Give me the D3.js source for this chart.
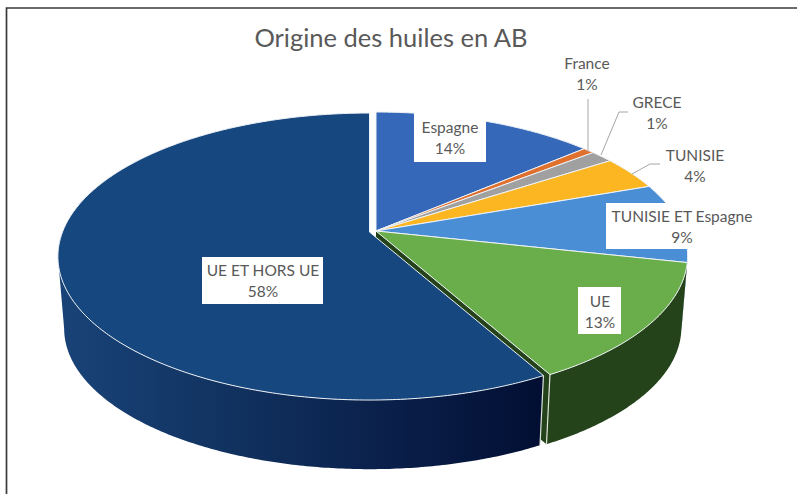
<!DOCTYPE html>
<html><head><meta charset="utf-8">
<script src="https://cdn.jsdelivr.net/npm/d3@7/dist/d3.min.js"></script>
<style>html,body{margin:0;padding:0;background:#fff}svg{display:block}text{font-family:Lato,"Noto Sans",sans-serif;fill:#595959}</style>
</head><body><svg id="c" width="797" height="494"></svg>
<script>
const title = "Origine des huiles en AB";
const categories = ["Espagne","France","GRECE","TUNISIE","TUNISIE ET Espagne","UE","UE ET HORS UE"];
const values = [13.6,0.7,1.4,3.8,9,13.5,58];
const valueLabels = ["14%","1%","1%","4%","9%","13%","58%"];
const colors = ["#3568b8","#e0702d","#a0a0a0","#fbb621","#4a8fd6","#6aae4c","#17477f"];
const sideColors = ["#1c3566","#7a3a12","#555555","#8a6410","#234f7c","#24431a","#0b2a58"];

const svg = d3.select("#c");
const defs = svg.append("defs");
const g = defs.append("linearGradient").attr("id","navy").attr("gradientUnits","userSpaceOnUse")
  .attr("x1",60).attr("x2",540).attr("y1",0).attr("y2",0);
[[0,"#194378"],[.3,"#123563"],[.6,"#0c2450"],[1,"#020f33"]].forEach(s=>
  g.append("stop").attr("offset",s[0]).attr("stop-color",s[1]));

// frame (open on the right and at the bottom)
svg.append("path").attr("d","M6.5 494V8H797").attr("fill","none").attr("stroke","#3a3a3a").attr("stroke-width",1.7);

svg.append("text").attr("x",391).attr("y",47).attr("text-anchor","middle").attr("font-size",25.5).text(title);

// perspective projection of the pie disc
const A=307,B=139.3,P=0.171,S=0.98,DEPTH=72.5;
function proj(a,cx,cy,bottom){
  const u=Math.sin(a),v=-Math.cos(a),d=1-P*v,s=bottom?S:1;
  return [cx+s*A*u/d,cy+(bottom?DEPTH:0)+s*B*v/d];
}
const arcs=d3.pie().sort(null).value(d=>d)(values);
const centre=i=>i===6?[369.5,232]:[376,231];
const lineGen=d3.line();
function edge(a0,a1,cx,cy,bottom){
  const n=Math.max(2,Math.ceil(Math.abs(a1-a0)/0.01));
  return d3.range(n+1).map(k=>proj(a0+(a1-a0)*k/n,cx,cy,bottom));
}
// walls
arcs.forEach((d,i)=>{
  const [cx,cy]=centre(i);
  if(i===5){ // radial face seen through the gap
    const c=proj(d.endAngle,cx,cy,false),b=proj(d.endAngle,cx,cy,true);
    svg.append("path").attr("d",lineGen([[cx,cy],c,b,[cx,cy+DEPTH]])+"Z").attr("fill",sideColors[5]);
  }
  const lo=Math.max(d.startAngle,Math.PI/2+Math.asin(P));
  const hi=Math.min(d.endAngle,3*Math.PI/2-Math.asin(P));
  if(hi>lo){
    const top=edge(lo,hi,cx,cy,false),bot=edge(hi,lo,cx,cy,true);
    svg.append("path").attr("d",lineGen(top.concat(bot))+"Z")
      .attr("fill",i===6?"url(#navy)":sideColors[i]);
  }
});
// light edges where the two front walls meet the gap
[5,6].forEach(i=>{
  const [cx,cy]=centre(i);
  const a=i===5?arcs[5].endAngle:arcs[6].startAngle;
  const t=proj(a,cx,cy,false),b=proj(a,cx,cy,true);
  svg.append("line").attr("x1",t[0]).attr("y1",t[1]).attr("x2",b[0]).attr("y2",b[1])
    .attr("stroke","#dfe5d8").attr("stroke-width",1.2);
});
// top faces
arcs.forEach((d,i)=>{
  const [cx,cy]=centre(i);
  const pts=[[cx,cy]].concat(edge(d.startAngle,d.endAngle,cx,cy,false));
  svg.append("path").attr("d",lineGen(pts)+"Z").attr("fill",colors[i])
    .attr("stroke","#eef2f6").attr("stroke-width",1).attr("stroke-linejoin","round");
});
// leader lines
const leaders=[[[588,152],[588,99]],[[601,155],[619,112],[628,112]],[[632,174],[650,164],[660,164]]];
leaders.forEach(l=>svg.append("path").attr("d",lineGen(l)).attr("fill","none").attr("stroke","#a6a6a6").attr("stroke-width",1));
// labels: text centre x, first-line centre y, optional white box
const labelPos=[[450,128,414,113,72,49],[587,64],[657,103],[695,156],[682,217,606,203,154,46],[600,302,578,287,43,47],[263,271,202,257,121,47]];
labelPos.forEach((p,i)=>{
  if(p.length>2) svg.append("rect").attr("x",p[2]).attr("y",p[3]).attr("width",p[4]).attr("height",p[5]).attr("fill","#fff");
  const t=svg.append("text").attr("text-anchor","middle").attr("font-size",15.5);
  t.append("tspan").attr("x",p[0]).attr("y",p[1]+5).text(categories[i]);
  t.append("tspan").attr("x",p[0]).attr("y",p[1]+26).text(valueLabels[i]);
});
</script></body></html>
